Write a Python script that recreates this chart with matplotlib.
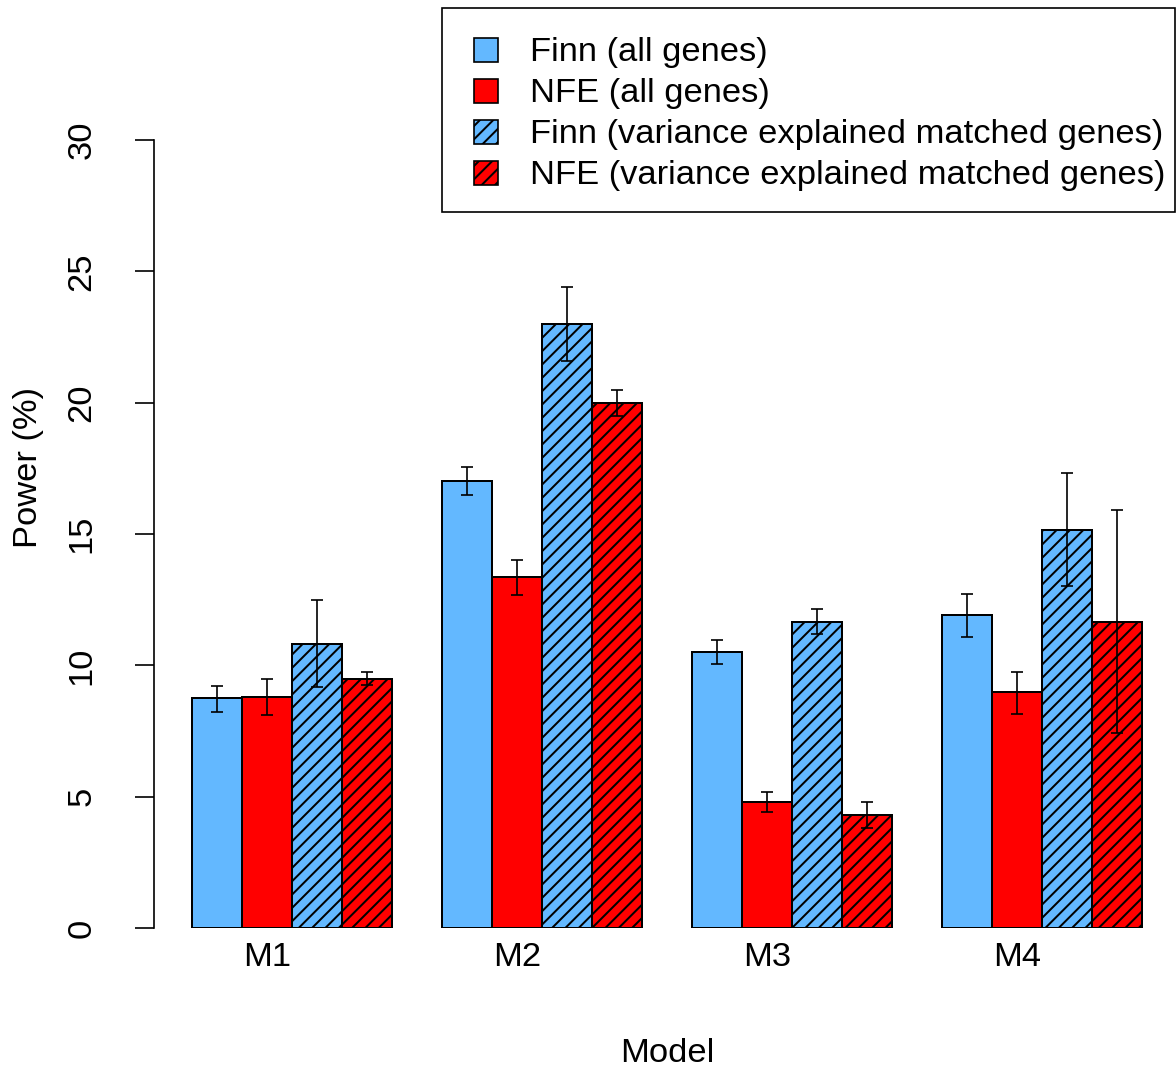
import matplotlib
matplotlib.use('Agg')
import matplotlib.pyplot as plt
from matplotlib.patches import Rectangle
import numpy as np

plt.rcParams['font.family'] = ['Liberation Sans', 'DejaVu Sans']
plt.rcParams['hatch.linewidth'] = 1.2

models = ['M1', 'M2', 'M3', 'M4']
series_labels = ['Finn (all genes)', 'NFE (all genes)',
                 'Finn (variance explained matched genes)',
                 'NFE (variance explained matched genes)']

finn_all = [8.75, 17.0, 10.5, 11.9]
nfe_all = [8.8, 13.35, 4.8, 8.97]
finn_ve = [10.83, 23.0, 11.65, 15.15]
nfe_ve = [9.49, 20.0, 4.32, 11.65]

finn_all_lo = [8.23, 16.48, 10.05, 11.09]
finn_all_hi = [9.21, 17.55, 10.96, 12.71]
nfe_all_lo = [8.12, 12.68, 4.42, 8.16]
nfe_all_hi = [9.48, 14.0, 5.18, 9.75]
finn_ve_lo = [9.17, 21.58, 11.19, 13.03]
finn_ve_hi = [12.49, 24.4, 12.14, 17.32]
nfe_ve_lo = [9.24, 19.49, 3.81, 7.42]
nfe_ve_hi = [9.75, 20.48, 4.8, 15.9]

y_ticks = [0, 5, 10, 15, 20, 25, 30]

BLUE = '#63B8FF'
RED = '#FF0000'
colors = [BLUE, RED, BLUE, RED]
hatches = [None, None, '///', '///']

values = [finn_all, nfe_all, finn_ve, nfe_ve]
los = [finn_all_lo, nfe_all_lo, finn_ve_lo, nfe_ve_lo]
his = [finn_all_hi, nfe_all_hi, finn_ve_hi, nfe_ve_hi]

W, H = 1176, 1070
DPI = 120
FS = 20.7
fig = plt.figure(figsize=(W / DPI, H / DPI), dpi=DPI)

ax = fig.add_axes([154 / W, (H - 928) / H, 1026 / W, 788 / H])
ax.patch.set_visible(False)

group_starts = np.array([1, 6, 11, 16])
for i in range(4):
    xs = group_starts + i + 0.5
    ax.bar(xs, values[i], width=1.0, color=colors[i], edgecolor='black',
           linewidth=1.2, hatch=hatches[i], zorder=2)
    v = np.array(values[i])
    yerr = np.vstack([v - np.array(los[i]), np.array(his[i]) - v])
    ax.errorbar(xs, v, yerr=yerr, fmt='none', ecolor='black',
                elinewidth=1.0, capsize=3.6, capthick=1.0, zorder=3)

ax.set_xlim(0.24, 20.76)
ax.set_ylim(0, 30)

for s in ['top', 'right', 'bottom']:
    ax.spines[s].set_visible(False)
ax.spines['left'].set_bounds(0, 30)
ax.spines['left'].set_linewidth(1.0)

ax.set_yticks(y_ticks)
ax.set_yticklabels([str(t) for t in y_ticks], rotation=90, va='center',
                   fontsize=FS)
ax.tick_params(axis='y', length=11.4, width=1.0, pad=22.5)

ax.set_xticks(group_starts + 1.5)
ax.set_xticklabels(models, fontsize=FS)
ax.tick_params(axis='x', length=0, pad=8.5)

fig.text(667 / W, 1 - 1053 / H, 'Model', ha='center', va='center', fontsize=FS)
fig.text(29 / W, 1 - 467 / H, 'Power (%)', ha='center', va='center',
         rotation=90, fontsize=FS)

# Legend box
lx0, ly0, lx1, ly1 = 442, 8, 1175, 212
fig.add_artist(Rectangle((lx0 / W, 1 - ly1 / H), (lx1 - lx0) / W, (ly1 - ly0) / H,
                         transform=fig.transFigure, facecolor='white',
                         edgecolor='black', linewidth=1.0, zorder=5))
row_y = [50, 91, 132, 173]
sq = 24
for i, lab in enumerate(series_labels):
    cy = row_y[i]
    fig.add_artist(Rectangle((474 / W, 1 - (cy + sq / 2) / H), sq / W, sq / H,
                             transform=fig.transFigure, facecolor=colors[i],
                             edgecolor='black', linewidth=1.0,
                             hatch=hatches[i], zorder=6))
    fig.text(530 / W, 1 - (cy + 2.5) / H, lab, ha='left', va='center',
             fontsize=FS, zorder=6)

fig.savefig('out.png', dpi=DPI)
